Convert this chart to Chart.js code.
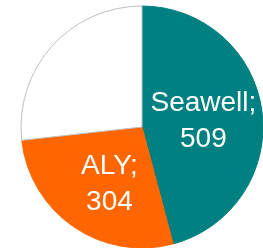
<!DOCTYPE html>
<html>
<head>
<meta charset="utf-8">
<script src="https://cdn.jsdelivr.net/npm/chart.js@4/dist/chart.umd.min.js"></script>
<style>
    html, body { margin: 0; padding: 0; background: #fff; }
    #wrap { width: 263px; height: 248px; position: relative; }
</style>
</head>
<body>
<div id="wrap"><canvas id="char_pie"></canvas></div>
<script>
// datos
var categorias = ["Seawell", "ALY", "Otros"];
var valores = [509, 304, 297];
var mostrar_etiqueta = [true, true, false];

var color_fondo = [
    "rgb(0, 128, 128)", //verde azulado
    "rgb(255, 102, 0)", //naranja
    "rgb(255, 255, 255)", //blanco
];
var color_borde = [
    "rgb(0, 128, 128)",
    "rgb(255, 102, 0)",
    "rgb(191, 191, 191)", //gris
];

// ajuste fino de cada etiqueta (px), como lo coloca Excel
var ajuste_etiqueta = [
    { dx: -1, dy: 2 },
    { dx: 3, dy: 5 },
    { dx: 0, dy: 0 },
];

// etiquetas "nombre;" + valor dentro de cada porcion
var etiquetas_pie = {
    id: "etiquetas_pie",
    afterDatasetsDraw: function (chart) {
        var ctx = chart.ctx;
        var meta = chart.getDatasetMeta(0);
        ctx.save();
        ctx.fillStyle = "#fff";
        ctx.font = "28px 'Liberation Sans', Arial, sans-serif";
        ctx.textAlign = "center";
        ctx.textBaseline = "middle";
        meta.data.forEach(function (arc, i) {
            if (!mostrar_etiqueta[i]) return;
            var p = arc.getProps(["x", "y", "startAngle", "endAngle", "outerRadius"], true);
            var mid = (p.startAngle + p.endAngle) / 2;
            var r = p.outerRadius * 0.52;
            var x = p.x + Math.cos(mid) * r + ajuste_etiqueta[i].dx;
            var y = p.y + Math.sin(mid) * r + ajuste_etiqueta[i].dy;
            ctx.fillText(categorias[i] + ";", x, y - 18);
            ctx.fillText(String(valores[i]), x, y + 18);
        });
        ctx.restore();
    },
};

var ctx_pie = document.getElementById("char_pie");
var char_pie = new Chart(ctx_pie, {
    type: "pie",
    data: {
        labels: categorias,
        datasets: [
            {
                data: valores,
                backgroundColor: color_fondo,
                borderColor: color_borde,
                borderWidth: 1,
                radius: 121,
            },
        ],
    },
    options: {
        responsive: true,
        maintainAspectRatio: false,
        animation: false,
        layout: {
            padding: { left: 21, top: 6, right: 0, bottom: 0 },
        },
        plugins: {
            legend: { display: false },
            tooltip: { enabled: false },
        },
    },
    plugins: [etiquetas_pie],
});
</script>
</body>
</html>
